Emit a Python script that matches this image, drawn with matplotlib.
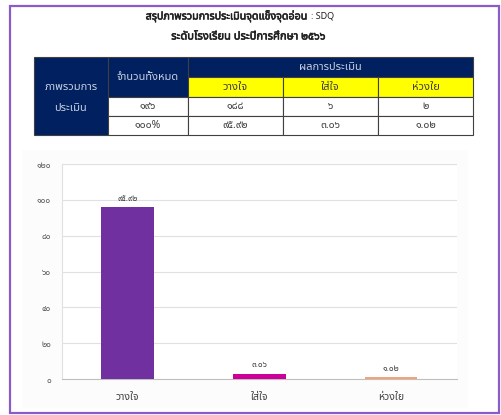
import numpy as np
import matplotlib.pyplot as plt
import matplotlib.patheffects as pe
from matplotlib.patches import Rectangle

plt.rcParams['font.family'] = ['Noto Sans Thai', 'Loma', 'Garuda', 'Tlwg Typo', 'Noto Sans', 'DejaVu Sans']

# datos
categorias = ['วางใจ', 'ใส่ใจ', 'ห่วงใย']
cantidades = [188, 6, 2]
total = 196
porcentajes = [95.92, 3.06, 1.02]
colores = ['#7030a0', '#cc0099', '#f4a27a']
yticks = [0, 20, 40, 60, 80, 100, 120]

titulo1 = 'สรุปภาพรวมการประเมินจุดแข็งจุดอ่อน'
titulo1b = ': SDQ'
titulo2 = 'ระดับโรงเรียน ประปีการศึกษา ๒๕๖๖'

THAI = str.maketrans('0123456789', '๐๑๒๓๔๕๖๗๘๙')


def thai(v):
    return str(v).translate(THAI)


fig = plt.figure(figsize=(5.02, 4.15), dpi=100)

# capa de fondo en pixeles: marco, titulos y tabla
bg = fig.add_axes([0, 0, 1, 1])
bg.set_xlim(0, 502)
bg.set_ylim(415, 0)
bg.axis('off')

bg.add_patch(Rectangle((10, 6), 489, 407, fill=False, ec='#8a5cc8', lw=1.6))
bg.add_patch(Rectangle((22, 150), 446, 258, fc='#fcfcfc', ec='none'))

negrita = [pe.withStroke(linewidth=0.4, foreground='#202020')]
bg.text(308, 16, titulo1, ha='right', va='center', fontsize=7.7, color='#202020', path_effects=negrita)
bg.text(311, 16.5, titulo1b, ha='left', va='center', fontsize=6.5, color='#202020')
bg.text(248, 37, titulo2, ha='center', va='center', fontsize=8, color='#202020', path_effects=negrita)

# tabla
col_x = [34, 108, 188, 283, 378, 473]
row_y = [57, 77, 97, 116, 135]
navy = '#002060'
borde = '#404040'
claro = '#c8d0e0'


def celda(x0, x1, y0, y1, txt, fc='white', tc='#404040', fs=7.5):
    bg.add_patch(Rectangle((x0, y0), x1 - x0, y1 - y0, fc=fc, ec=borde, lw=0.8))
    bg.text((x0 + x1) / 2, (y0 + y1) / 2, txt, ha='center', va='center',
            fontsize=fs, color=tc)


celda(col_x[0], col_x[1], row_y[0], row_y[4], '', fc=navy)
bg.text((col_x[0] + col_x[1]) / 2, 87, 'ภาพรวมการ', ha='center', va='center', fontsize=8, color=claro)
bg.text((col_x[0] + col_x[1]) / 2, 108, 'ประเมิน', ha='center', va='center', fontsize=8, color=claro)
celda(col_x[1], col_x[2], row_y[0], row_y[2], 'จำนวนทั้งหมด', fc=navy, tc=claro, fs=8)
celda(col_x[2], col_x[5], row_y[0], row_y[1], 'ผลการประเมิน', fc=navy, tc=claro, fs=8)
for i, cat in enumerate(categorias):
    celda(col_x[2 + i], col_x[3 + i], row_y[1], row_y[2], cat, fc='#ffff00', tc='#404040', fs=8)
celda(col_x[1], col_x[2], row_y[2], row_y[3], thai(total))
celda(col_x[1], col_x[2], row_y[3], row_y[4], thai('100%'))
for i in range(3):
    celda(col_x[2 + i], col_x[3 + i], row_y[2], row_y[3], thai(cantidades[i]))
    celda(col_x[2 + i], col_x[3 + i], row_y[3], row_y[4], thai(f'{porcentajes[i]:.2f}'))

# grafico de barras
ax = fig.add_axes([62 / 502, 1 - 379 / 415, 395 / 502, 215 / 415])
ax.set_facecolor('white')
x = np.arange(len(categorias))
ax.bar(x, porcentajes, width=0.4, color=colores, zorder=3)
for xi, v in zip(x, porcentajes):
    ax.text(xi, v + 2.5, thai(f'{v:.2f}'), ha='center', va='bottom', fontsize=6, color='#404040')

ax.set_xlim(-0.5, 2.5)
ax.set_ylim(0, 120)
ax.set_yticks(yticks)
ax.set_yticklabels([thai(t) for t in yticks], fontsize=6, color='#595959')
ax.set_xticks(x)
ax.set_xticklabels(categorias, fontsize=7.5, color='#404040')
ax.tick_params(length=0)
ax.tick_params(axis='y', pad=8)
ax.tick_params(axis='x', pad=9)
ax.grid(axis='y', color='#e0e0e0', lw=0.8, zorder=0)
for s in ['top', 'right']:
    ax.spines[s].set_visible(False)
ax.spines['left'].set_color('#e0e0e0')
ax.spines['bottom'].set_color('#bfbfbf')

fig.savefig('out.png', dpi=100)
